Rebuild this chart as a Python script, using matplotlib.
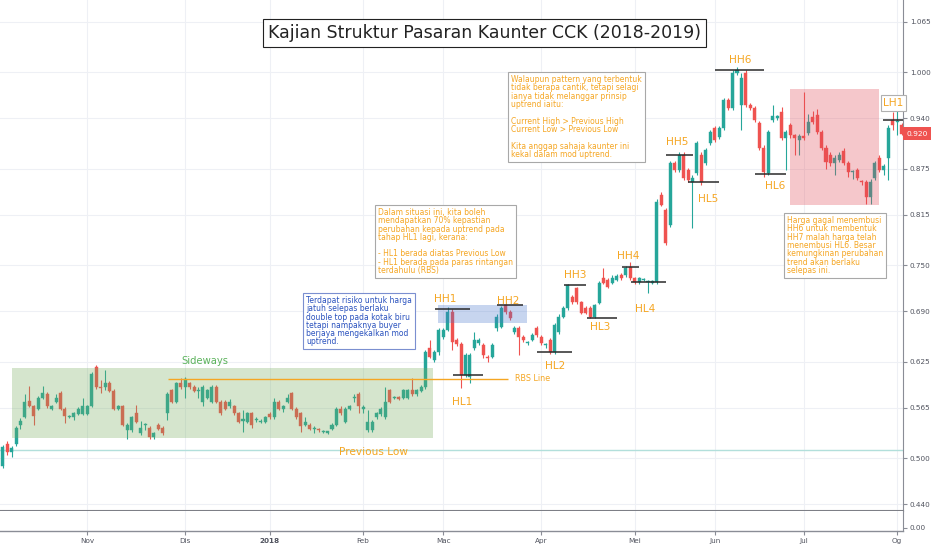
import numpy as np
import matplotlib
matplotlib.use('Agg')
import matplotlib.pyplot as plt
from matplotlib.patches import Rectangle
from matplotlib.transforms import blended_transform_factory

# ---- daily candles, Oct 2017 - Aug 2018 ----
open_ = [0.490, 0.518, 0.508, 0.518, 0.543, 0.553, 0.574, 0.567, 0.564, 0.578,
         0.583, 0.564, 0.573, 0.584, 0.564, 0.553, 0.553, 0.557, 0.557, 0.557,
         0.567, 0.618, 0.592, 0.592, 0.597, 0.587, 0.564, 0.567, 0.536, 0.536,
         0.558, 0.532, 0.543, 0.539, 0.527, 0.543, 0.539, 0.558, 0.588, 0.573,
         0.597, 0.592, 0.597, 0.592, 0.587, 0.573, 0.578, 0.573, 0.592, 0.573,
         0.573, 0.567, 0.567, 0.558, 0.548, 0.547, 0.558, 0.549, 0.547, 0.547,
         0.557, 0.553, 0.573, 0.564, 0.573, 0.584, 0.564, 0.558, 0.543, 0.543,
         0.538, 0.537, 0.534, 0.533, 0.538, 0.543, 0.564, 0.547, 0.564, 0.578,
         0.583, 0.564, 0.536, 0.536, 0.553, 0.557, 0.553, 0.588, 0.578, 0.578,
         0.578, 0.578, 0.588, 0.583, 0.587, 0.592, 0.643, 0.627, 0.637, 0.657,
         0.666, 0.689, 0.653, 0.648, 0.608, 0.605, 0.643, 0.649, 0.646, 0.630,
         0.631, 0.668, 0.670, 0.698, 0.689, 0.663, 0.668, 0.657, 0.649, 0.653,
         0.668, 0.657, 0.646, 0.653, 0.637, 0.663, 0.683, 0.694, 0.709, 0.720,
         0.702, 0.694, 0.694, 0.683, 0.701, 0.733, 0.731, 0.727, 0.731, 0.737,
         0.737, 0.747, 0.733, 0.728, 0.731, 0.728, 0.727, 0.728, 0.841, 0.821,
         0.802, 0.882, 0.873, 0.893, 0.873, 0.858, 0.869, 0.893, 0.882, 0.908,
         0.928, 0.916, 0.928, 0.964, 0.953, 0.999, 0.957, 0.999, 0.957, 0.953,
         0.934, 0.902, 0.869, 0.938, 0.941, 0.948, 0.915, 0.931, 0.918, 0.912,
         0.917, 0.921, 0.942, 0.944, 0.922, 0.902, 0.893, 0.882, 0.886, 0.898,
         0.882, 0.870, 0.873, 0.858, 0.858, 0.838, 0.863, 0.889, 0.873, 0.889,
         0.938, 0.935, 0.931]
high = [0.517, 0.522, 0.516, 0.542, 0.552, 0.583, 0.593, 0.569, 0.580, 0.593,
        0.586, 0.569, 0.583, 0.587, 0.566, 0.556, 0.560, 0.566, 0.578, 0.569,
        0.611, 0.620, 0.601, 0.614, 0.600, 0.589, 0.569, 0.569, 0.545, 0.555,
        0.569, 0.548, 0.545, 0.541, 0.534, 0.545, 0.541, 0.585, 0.590, 0.599,
        0.604, 0.605, 0.599, 0.594, 0.592, 0.594, 0.590, 0.594, 0.594, 0.575,
        0.575, 0.577, 0.569, 0.560, 0.562, 0.560, 0.560, 0.553, 0.551, 0.555,
        0.559, 0.578, 0.575, 0.569, 0.583, 0.586, 0.566, 0.560, 0.553, 0.545,
        0.541, 0.539, 0.536, 0.534, 0.545, 0.566, 0.567, 0.566, 0.569, 0.583,
        0.586, 0.569, 0.562, 0.549, 0.560, 0.566, 0.592, 0.590, 0.580, 0.580,
        0.590, 0.590, 0.604, 0.590, 0.594, 0.640, 0.653, 0.640, 0.669, 0.669,
        0.696, 0.693, 0.655, 0.650, 0.636, 0.636, 0.663, 0.655, 0.649, 0.633,
        0.649, 0.686, 0.697, 0.700, 0.692, 0.671, 0.671, 0.659, 0.652, 0.662,
        0.671, 0.659, 0.649, 0.655, 0.675, 0.686, 0.697, 0.726, 0.711, 0.722,
        0.704, 0.697, 0.697, 0.700, 0.729, 0.746, 0.733, 0.737, 0.738, 0.740,
        0.749, 0.754, 0.735, 0.735, 0.733, 0.731, 0.731, 0.835, 0.844, 0.824,
        0.885, 0.885, 0.896, 0.896, 0.876, 0.866, 0.911, 0.896, 0.902, 0.925,
        0.930, 0.930, 0.967, 0.967, 1.002, 1.006, 0.999, 1.002, 0.960, 0.956,
        0.937, 0.905, 0.925, 0.957, 0.944, 0.955, 0.925, 0.934, 0.920, 0.920,
        0.974, 0.945, 0.950, 0.952, 0.925, 0.905, 0.896, 0.892, 0.896, 0.901,
        0.885, 0.873, 0.876, 0.860, 0.860, 0.861, 0.885, 0.892, 0.881, 0.931,
        0.948, 0.953, 0.934]
low = [0.487, 0.504, 0.501, 0.515, 0.538, 0.552, 0.566, 0.543, 0.562, 0.576,
       0.565, 0.562, 0.571, 0.562, 0.545, 0.552, 0.549, 0.556, 0.556, 0.556,
       0.566, 0.590, 0.584, 0.588, 0.585, 0.562, 0.562, 0.541, 0.525, 0.534,
       0.545, 0.530, 0.536, 0.525, 0.525, 0.536, 0.530, 0.549, 0.571, 0.571,
       0.590, 0.578, 0.590, 0.585, 0.578, 0.567, 0.576, 0.571, 0.571, 0.556,
       0.562, 0.565, 0.556, 0.545, 0.534, 0.545, 0.539, 0.547, 0.545, 0.545,
       0.551, 0.551, 0.562, 0.560, 0.571, 0.562, 0.551, 0.534, 0.541, 0.536,
       0.532, 0.534, 0.532, 0.531, 0.536, 0.541, 0.556, 0.545, 0.562, 0.573,
       0.558, 0.558, 0.534, 0.534, 0.551, 0.555, 0.551, 0.571, 0.576, 0.575,
       0.576, 0.576, 0.581, 0.581, 0.585, 0.590, 0.629, 0.624, 0.634, 0.654,
       0.664, 0.640, 0.645, 0.591, 0.605, 0.597, 0.640, 0.646, 0.630, 0.625,
       0.629, 0.664, 0.668, 0.686, 0.679, 0.661, 0.633, 0.650, 0.646, 0.651,
       0.657, 0.646, 0.643, 0.635, 0.635, 0.661, 0.681, 0.692, 0.700, 0.700,
       0.686, 0.686, 0.681, 0.681, 0.699, 0.725, 0.720, 0.725, 0.729, 0.731,
       0.735, 0.731, 0.726, 0.726, 0.729, 0.714, 0.725, 0.726, 0.826, 0.776,
       0.799, 0.871, 0.871, 0.860, 0.857, 0.798, 0.866, 0.854, 0.879, 0.905,
       0.909, 0.913, 0.925, 0.951, 0.951, 0.996, 0.925, 0.955, 0.951, 0.935,
       0.899, 0.864, 0.867, 0.935, 0.938, 0.912, 0.873, 0.915, 0.893, 0.893,
       0.912, 0.918, 0.933, 0.920, 0.899, 0.875, 0.878, 0.867, 0.883, 0.879,
       0.864, 0.862, 0.860, 0.854, 0.829, 0.829, 0.860, 0.870, 0.867, 0.860,
       0.925, 0.918, 0.918]
close = [0.514, 0.508, 0.513, 0.539, 0.548, 0.573, 0.567, 0.554, 0.578, 0.584,
         0.567, 0.567, 0.578, 0.564, 0.554, 0.554, 0.558, 0.564, 0.567, 0.567,
         0.609, 0.592, 0.591, 0.597, 0.587, 0.564, 0.567, 0.543, 0.543, 0.553,
         0.547, 0.539, 0.543, 0.527, 0.532, 0.538, 0.532, 0.583, 0.573, 0.597,
         0.592, 0.602, 0.592, 0.587, 0.587, 0.592, 0.588, 0.592, 0.573, 0.558,
         0.564, 0.573, 0.558, 0.547, 0.550, 0.558, 0.543, 0.549, 0.547, 0.553,
         0.553, 0.573, 0.564, 0.567, 0.578, 0.564, 0.553, 0.542, 0.547, 0.538,
         0.538, 0.536, 0.534, 0.533, 0.543, 0.564, 0.558, 0.564, 0.567, 0.578,
         0.567, 0.564, 0.547, 0.547, 0.558, 0.564, 0.573, 0.573, 0.578, 0.577,
         0.588, 0.588, 0.583, 0.588, 0.592, 0.637, 0.631, 0.637, 0.666, 0.666,
         0.689, 0.650, 0.648, 0.608, 0.633, 0.633, 0.653, 0.653, 0.633, 0.629,
         0.646, 0.683, 0.694, 0.689, 0.681, 0.668, 0.657, 0.653, 0.649, 0.659,
         0.659, 0.649, 0.646, 0.637, 0.672, 0.683, 0.694, 0.724, 0.702, 0.702,
         0.688, 0.688, 0.683, 0.698, 0.727, 0.727, 0.722, 0.733, 0.736, 0.733,
         0.746, 0.733, 0.728, 0.733, 0.731, 0.728, 0.729, 0.832, 0.828, 0.779,
         0.882, 0.873, 0.893, 0.863, 0.860, 0.863, 0.908, 0.858, 0.899, 0.922,
         0.912, 0.928, 0.964, 0.953, 0.999, 1.003, 0.992, 0.957, 0.953, 0.938,
         0.902, 0.871, 0.922, 0.943, 0.941, 0.915, 0.922, 0.918, 0.915, 0.917,
         0.915, 0.935, 0.935, 0.922, 0.902, 0.884, 0.882, 0.889, 0.893, 0.882,
         0.871, 0.870, 0.863, 0.857, 0.838, 0.858, 0.882, 0.873, 0.878, 0.928,
         0.931, 0.935, 0.920]

# month labels sit on the first candle of each month
month_pos = [19, 41, 60, 81, 99, 121, 142, 160, 180, 201]
month_lbl = ['Nov', 'Dis', '2018', 'Feb', 'Mac', 'Apr', 'Mei', 'Jun', 'Jul', 'Og']
price_ticks = [0.440, 0.500, 0.565, 0.625, 0.690, 0.750, 0.815, 0.875, 0.940, 1.000, 1.065]

# swing points: label, label x, label y, marker from, marker to, marker level
swing_lbl = ['HH1', 'HL1', 'HH2', 'HL2', 'HH3', 'HL3', 'HH4', 'HL4', 'HH5', 'HL5', 'HH6', 'HL6']
swing_tx = [99.4, 103.2, 113.6, 124.1, 128.6, 134.2, 140.5, 144.3, 151.5, 158.5, 165.7, 173.6]
swing_ty = [0.706, 0.572, 0.703, 0.619, 0.737, 0.670, 0.762, 0.693, 0.909, 0.836, 1.016, 0.852]
swing_x0 = [97.1, 101.2, 111.1, 120.1, 126.1, 131.3, 139.2, 141.2, 149.1, 154.0, 160.1, 169.0]
swing_x1 = [105.0, 107.9, 116.9, 127.9, 131.1, 138.0, 143.0, 149.1, 155.1, 161.0, 171.1, 176.0]
swing_lv = [0.693, 0.6075, 0.698, 0.637, 0.724, 0.681, 0.747, 0.728, 0.8925, 0.8575, 1.0026, 0.868]

last_price = 0.920
rbs_level = 0.603
prev_low = 0.511

GREEN = '#26a69a'
RED = '#ef5350'
ORANGE = '#f5a623'
GREY_TXT = '#50535e'

plt.rcParams['font.family'] = ['DejaVu Sans']

fig = plt.figure(figsize=(9.32, 5.5), dpi=100)
ax = fig.add_axes([0, 39 / 550, 903 / 932, 511 / 550])
sub = fig.add_axes([0, 19 / 550, 903 / 932, 20 / 550], sharex=ax)

o = np.array(open_)
h = np.array(high)
l = np.array(low)
c = np.array(close)
x = np.arange(len(c))
col = np.where(c >= o, GREEN, RED)

ax.vlines(x, l, h, colors=col, lw=0.8, zorder=2)
ax.bar(x, np.maximum(np.abs(c - o), 0.0015), bottom=np.minimum(o, c),
       width=0.68, color=col, edgecolor=col, linewidth=0.3, zorder=3)

# zones
ax.add_patch(Rectangle((2.1, 0.526), 94.6, 0.091, facecolor='#76ac5c', alpha=0.3, lw=0, zorder=4))
ax.add_patch(Rectangle((97.8, 0.675), 20.0, 0.023, facecolor='#4876cd', alpha=0.3, lw=0, zorder=4))
ax.add_patch(Rectangle((176.9, 0.828), 20.0, 0.150, facecolor='#e14855', alpha=0.3, lw=0, zorder=4))

ax.axhline(prev_low, color='#b2dfdb', lw=1, zorder=1)
ax.hlines(rbs_level, 37.2, 113.6, color=ORANGE, lw=1, zorder=5)
ax.text(115.1, rbs_level, 'RBS Line', color=ORANGE, fontsize=5.8, ha='left', va='center', zorder=6)
ax.text(45.5, 0.6254, 'Sideways', color='#5cb35c', fontsize=7.2, ha='center', va='center', zorder=6)
ax.text(83.4, 0.5078, 'Previous Low', color=ORANGE, fontsize=7.6, ha='center', va='center', zorder=6)

for name, tx, ty, x0, x1, lv in zip(swing_lbl, swing_tx, swing_ty, swing_x0, swing_x1, swing_lv):
    ax.hlines(lv, x0, x1, color='#2a2a2a', lw=1.1, zorder=5)
    ax.text(tx, ty, name, color=ORANGE, fontsize=7.6, ha='center', va='center', zorder=6)

ax.hlines(0.938, 197.8, 202.5, color='#2a2a2a', lw=1.1, zorder=5)
ax.text(197.9, 0.9598, 'LH1', color=ORANGE, fontsize=7.6, ha='left', va='center', zorder=6,
        bbox=dict(boxstyle='square,pad=0.25', fc='white', ec='#b0b0b0', lw=0.8))

# callouts
note_kw = dict(fontsize=5.5, linespacing=0.9, ha='left', va='top', zorder=7)
blue_txt = ("Terdapat risiko untuk harga\njatuh selepas berlaku\ndouble top pada kotak biru\n"
            "tetapi nampaknya buyer\nberjaya mengekalkan mod\nuptrend.")
ax.text(68.2, 0.710, blue_txt, color='#2a52be',
        bbox=dict(boxstyle='square,pad=0.4', fc='white', ec='#7b8fd0', lw=0.8), **note_kw)
txt1 = ("Dalam situasi ini, kita boleh\nmendapatkan 70% kepastian\nperubahan kepada uptrend pada\n"
        "tahap HL1 lagi, kerana:\n\n- HL1 berada diatas Previous Low\n"
        "- HL1 berada pada paras rintangan\nterdahulu (RBS)")
ax.text(84.3, 0.824, txt1, color=ORANGE,
        bbox=dict(boxstyle='square,pad=0.4', fc='white', ec='#a8a8a8', lw=0.8), **note_kw)
txt2 = ("Walaupun pattern yang terbentuk\ntidak berapa cantik, tetapi selagi\n"
        "ianya tidak melanggar prinsip\nuptrend iaitu:\n\nCurrent High > Previous High\n"
        "Current Low > Previous Low\n\nKita anggap sahaja kaunter ini\nkekal dalam mod uptrend.")
ax.text(114.2, 0.996, txt2, color=ORANGE,
        bbox=dict(boxstyle='square,pad=0.4', fc='white', ec='#a8a8a8', lw=0.8), **note_kw)
txt3 = ("Harga gagal menembusi\nHH6 untuk membentuk\nHH7 malah harga telah\nmenembusi HL6. Besar\n"
        "kemungkinan perubahan\ntrend akan berlaku\nselepas ini.")
ax.text(176.2, 0.8135, txt3, color=ORANGE,
        bbox=dict(boxstyle='square,pad=0.4', fc='white', ec='#a8a8a8', lw=0.8), **note_kw)

# axes styling
ax.set_xlim(-0.6, 202.3)
ax.set_ylim(0.4314, 1.0933)
ax.yaxis.tick_right()
ax.set_yticks(price_ticks)
ax.set_yticklabels(['%.3f' % p for p in price_ticks])
ax.tick_params(axis='y', length=3, color='#8a8d96', labelsize=5.2, labelcolor=GREY_TXT, pad=2)
ax.set_xticks(month_pos)
ax.tick_params(axis='x', length=0, labelbottom=False)
ax.grid(True, color='#eef0f5', lw=0.8)
ax.set_axisbelow(True)
for s in ['top', 'left']:
    ax.spines[s].set_visible(False)
ax.spines['right'].set_color('#8a8d96')
ax.spines['right'].set_linewidth(0.8)
ax.spines['bottom'].set_color('#7d7f86')
ax.spines['bottom'].set_linewidth(1.5)

sub.set_ylim(-0.2, 1)
sub.yaxis.tick_right()
sub.set_yticks([0])
sub.set_yticklabels(['0.00'])
sub.tick_params(axis='y', length=3, color='#8a8d96', labelsize=5.2, labelcolor=GREY_TXT, pad=2)
sub.set_xticks(month_pos)
sub.set_xticklabels(month_lbl)
sub.tick_params(axis='x', length=3, color='#8a8d96', labelsize=5.2, labelcolor=GREY_TXT, pad=2)
sub.get_xticklabels()[2].set_fontweight('bold')
sub.grid(True, axis='x', color='#eef0f5', lw=0.8)
for s in ['top', 'left']:
    sub.spines[s].set_visible(False)
sub.spines['right'].set_color('#8a8d96')
sub.spines['right'].set_linewidth(0.8)
sub.spines['bottom'].set_color('#8a8d96')
sub.spines['bottom'].set_linewidth(1.0)

# last price tag
tr = blended_transform_factory(ax.transAxes, ax.transData)
ax.text(1.004, last_price, '%.3f' % last_price, transform=tr, ha='left', va='center',
        fontsize=5.4, color='white', clip_on=False, zorder=8,
        bbox=dict(boxstyle='square,pad=0.45', fc=RED, ec='none'))

fig.text(0.520, 0.94, 'Kajian Struktur Pasaran Kaunter CCK (2018-2019)', ha='center', va='center',
         fontsize=12.5, color='#222222',
         bbox=dict(boxstyle='square,pad=0.3', fc='white', ec='#222222', lw=0.8))

# the last month label is cut by the price scale
fig.add_artist(Rectangle((903.5 / 932, 0), 28.5 / 932, 17 / 550, transform=fig.transFigure,
                         facecolor='white', edgecolor='none', zorder=5))

fig.savefig('out.png', dpi=100)
